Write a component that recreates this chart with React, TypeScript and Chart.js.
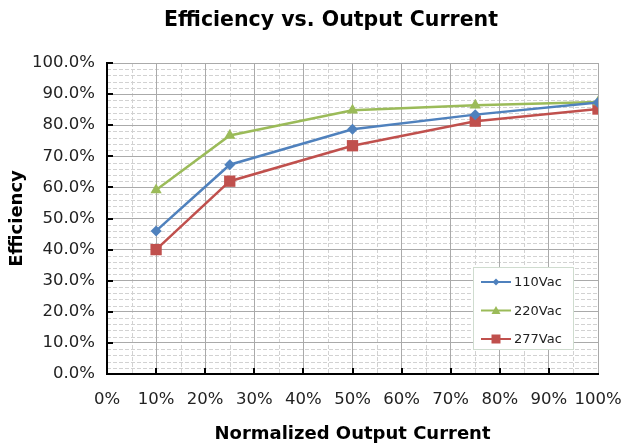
import { useEffect, useRef } from "react";
import { Chart, registerables } from "chart.js";
Chart.register(...registerables);

const loads = [10, 25, 50, 75, 100];
const eff110 = [46.0, 67.3, 78.7, 83.4, 87.3];
const eff220 = [59.2, 76.7, 84.8, 86.4, 87.5];
const eff277 = [40.0, 62.0, 73.4, 81.3, 85.2];
const seriesNames = ["110Vac", "220Vac", "277Vac"];
const seriesColors = ["#4f81bd", "#9bbb59", "#c0504d"];
const titleText = "Efficiency vs. Output Current";
const xTitle = "Normalized Output Current";
const yTitle = "Efficiency";

const FONT = "'DejaVu Sans', sans-serif";

function drawMarker(ctx: CanvasRenderingContext2D, kind: number, x: number, y: number, s: number) {
  ctx.beginPath();
  if (kind === 0) {
    ctx.moveTo(x, y - s);
    ctx.lineTo(x + s, y);
    ctx.lineTo(x, y + s);
    ctx.lineTo(x - s, y);
  } else if (kind === 1) {
    ctx.moveTo(x, y - s);
    ctx.lineTo(x + s, y + s * 0.8);
    ctx.lineTo(x - s, y + s * 0.8);
  } else {
    ctx.rect(x - s, y - s, 2 * s, 2 * s);
  }
  ctx.closePath();
  ctx.fill();
}

const minorGrid = {
  id: "minorGrid",
  beforeDraw(chart: any) {
    const { ctx, chartArea } = chart;
    const xs = chart.scales.x;
    const ys = chart.scales.y;
    ctx.save();
    ctx.strokeStyle = "#d2d2d2";
    ctx.lineWidth = 1;
    ctx.setLineDash([4, 2]);
    for (let v = 2; v < 100; v += 2) {
      if (v % 10 === 0) continue;
      const py = Math.round(ys.getPixelForValue(v)) + 0.5;
      ctx.beginPath();
      ctx.moveTo(chartArea.left, py);
      ctx.lineTo(chartArea.right, py);
      ctx.stroke();
    }
    for (let v = 5; v < 100; v += 10) {
      const px = Math.round(xs.getPixelForValue(v)) + 0.5;
      ctx.beginPath();
      ctx.moveTo(px, chartArea.top);
      ctx.lineTo(px, chartArea.bottom);
      ctx.stroke();
    }
    ctx.restore();
  },
  beforeDatasetsDraw(chart: any) {
    const { ctx, chartArea } = chart;
    const xs = chart.scales.x;
    const ys = chart.scales.y;
    ctx.save();
    ctx.strokeStyle = "#000";
    ctx.lineWidth = 2;
    for (let v = 10; v <= 100; v += 10) {
      const py = Math.round(ys.getPixelForValue(v));
      ctx.beginPath();
      ctx.moveTo(chartArea.left, py);
      ctx.lineTo(chartArea.left + 6, py);
      ctx.stroke();
      if (v < 100) {
        const px = Math.round(xs.getPixelForValue(v));
        ctx.beginPath();
        ctx.moveTo(px, chartArea.bottom);
        ctx.lineTo(px, chartArea.bottom - 6);
        ctx.stroke();
      }
    }
    ctx.restore();
  },
};

const titleAndLegend = {
  id: "titleAndLegend",
  afterDraw(chart: any) {
    const { ctx } = chart;
    ctx.save();
    ctx.fillStyle = "#000";
    ctx.font = `bold 20.5px ${FONT}`;
    ctx.textAlign = "center";
    ctx.textBaseline = "middle";
    ctx.fillText(titleText, 331, 21);

    // legend box
    const bx = 473, by = 267, bw = 100, bh = 82;
    ctx.fillStyle = "#fff";
    ctx.fillRect(bx, by, bw, bh);
    ctx.strokeStyle = "#cfdccf";
    ctx.lineWidth = 1;
    ctx.strokeRect(bx + 0.5, by + 0.5, bw, bh);
    ctx.font = `13px ${FONT}`;
    ctx.textAlign = "left";
    const sizes = [3.5, 4.5, 4.5];
    for (let i = 0; i < seriesNames.length; i++) {
      const cy = by + 15 + i * 28.5;
      ctx.strokeStyle = seriesColors[i];
      ctx.lineWidth = 2;
      ctx.beginPath();
      ctx.moveTo(bx + 8, cy);
      ctx.lineTo(bx + 38, cy);
      ctx.stroke();
      ctx.fillStyle = seriesColors[i];
      drawMarker(ctx, i, bx + 23, cy, sizes[i]);
      ctx.fillStyle = "#222";
      ctx.fillText(seriesNames[i], bx + 41, cy + 1);
    }
    ctx.restore();
  },
};

export default function App() {
  const ref = useRef<HTMLCanvasElement | null>(null);
  useEffect(() => {
    document.body.style.margin = "0";
    const canvas = ref.current!;
    const mk = (vals: number[]) => loads.map((x, i) => ({ x, y: vals[i] }));
    const chart = new Chart(canvas, {
      type: "line",
      data: {
        datasets: [
          {
            label: seriesNames[0],
            data: mk(eff110),
            borderColor: seriesColors[0],
            backgroundColor: seriesColors[0],
            borderWidth: 2.5,
            pointStyle: "rectRot",
            pointRadius: 5.5,
            pointBorderWidth: 0,
          },
          {
            label: seriesNames[1],
            data: mk(eff220),
            borderColor: seriesColors[1],
            backgroundColor: seriesColors[1],
            borderWidth: 2.5,
            pointStyle: "triangle",
            pointRadius: 6.5,
            pointBorderWidth: 0,
          },
          {
            label: seriesNames[2],
            data: mk(eff277),
            borderColor: seriesColors[2],
            backgroundColor: seriesColors[2],
            borderWidth: 2.5,
            pointStyle: "rect",
            pointRadius: 8,
            pointBorderWidth: 0,
          },
        ],
      },
      options: {
        responsive: false,
        animation: false,
        layout: { padding: { top: 63, right: 27, left: 0, bottom: 0 } },
        plugins: { legend: { display: false }, title: { display: false }, tooltip: { enabled: false } },
        scales: {
          x: {
            type: "linear",
            min: 0,
            max: 100,
            ticks: {
              stepSize: 10,
              padding: 16,
              color: "#222",
              maxRotation: 0,
              minRotation: 0,
              autoSkip: false,
              font: { family: FONT, size: 16.5 },
              callback: (v: any) => `${v}%`,
            },
            grid: { color: "#aaaaaa", lineWidth: 1, drawTicks: false },
            border: { display: true, color: "#000", width: 2 },
            title: {
              display: true,
              text: xTitle,
              color: "#000",
              font: { family: FONT, size: 18, weight: "bold", lineHeight: 1 },
              padding: { top: 0, bottom: 0 },
            },
            afterFit: (s: any) => {
              s.height = 69;
              s.paddingLeft = 0;
              s.paddingRight = 0;
            },
          },
          y: {
            type: "linear",
            min: 0,
            max: 100,
            ticks: {
              stepSize: 10,
              padding: 12,
              color: "#222",
              font: { family: FONT, size: 16.5 },
              callback: (v: any) => `${Number(v).toFixed(1)}%`,
            },
            grid: { color: "#aaaaaa", lineWidth: 1, drawTicks: false },
            border: { display: true, color: "#000", width: 2 },
            title: {
              display: true,
              text: yTitle,
              color: "#000",
              font: { family: FONT, size: 18, weight: "bold", lineHeight: 1.2 },
              padding: { top: 7, bottom: 0 },
            },
            afterFit: (s: any) => {
              s.width = 107;
              s.paddingTop = 0;
              s.paddingBottom = 0;
            },
          },
        },
      } as any,
      plugins: [minorGrid, titleAndLegend],
    });
    return () => chart.destroy();
  }, []);
  return (
    <div style={{ width: 625, height: 443 }}>
      <canvas ref={ref} width={625} height={443} />
    </div>
  );
}
